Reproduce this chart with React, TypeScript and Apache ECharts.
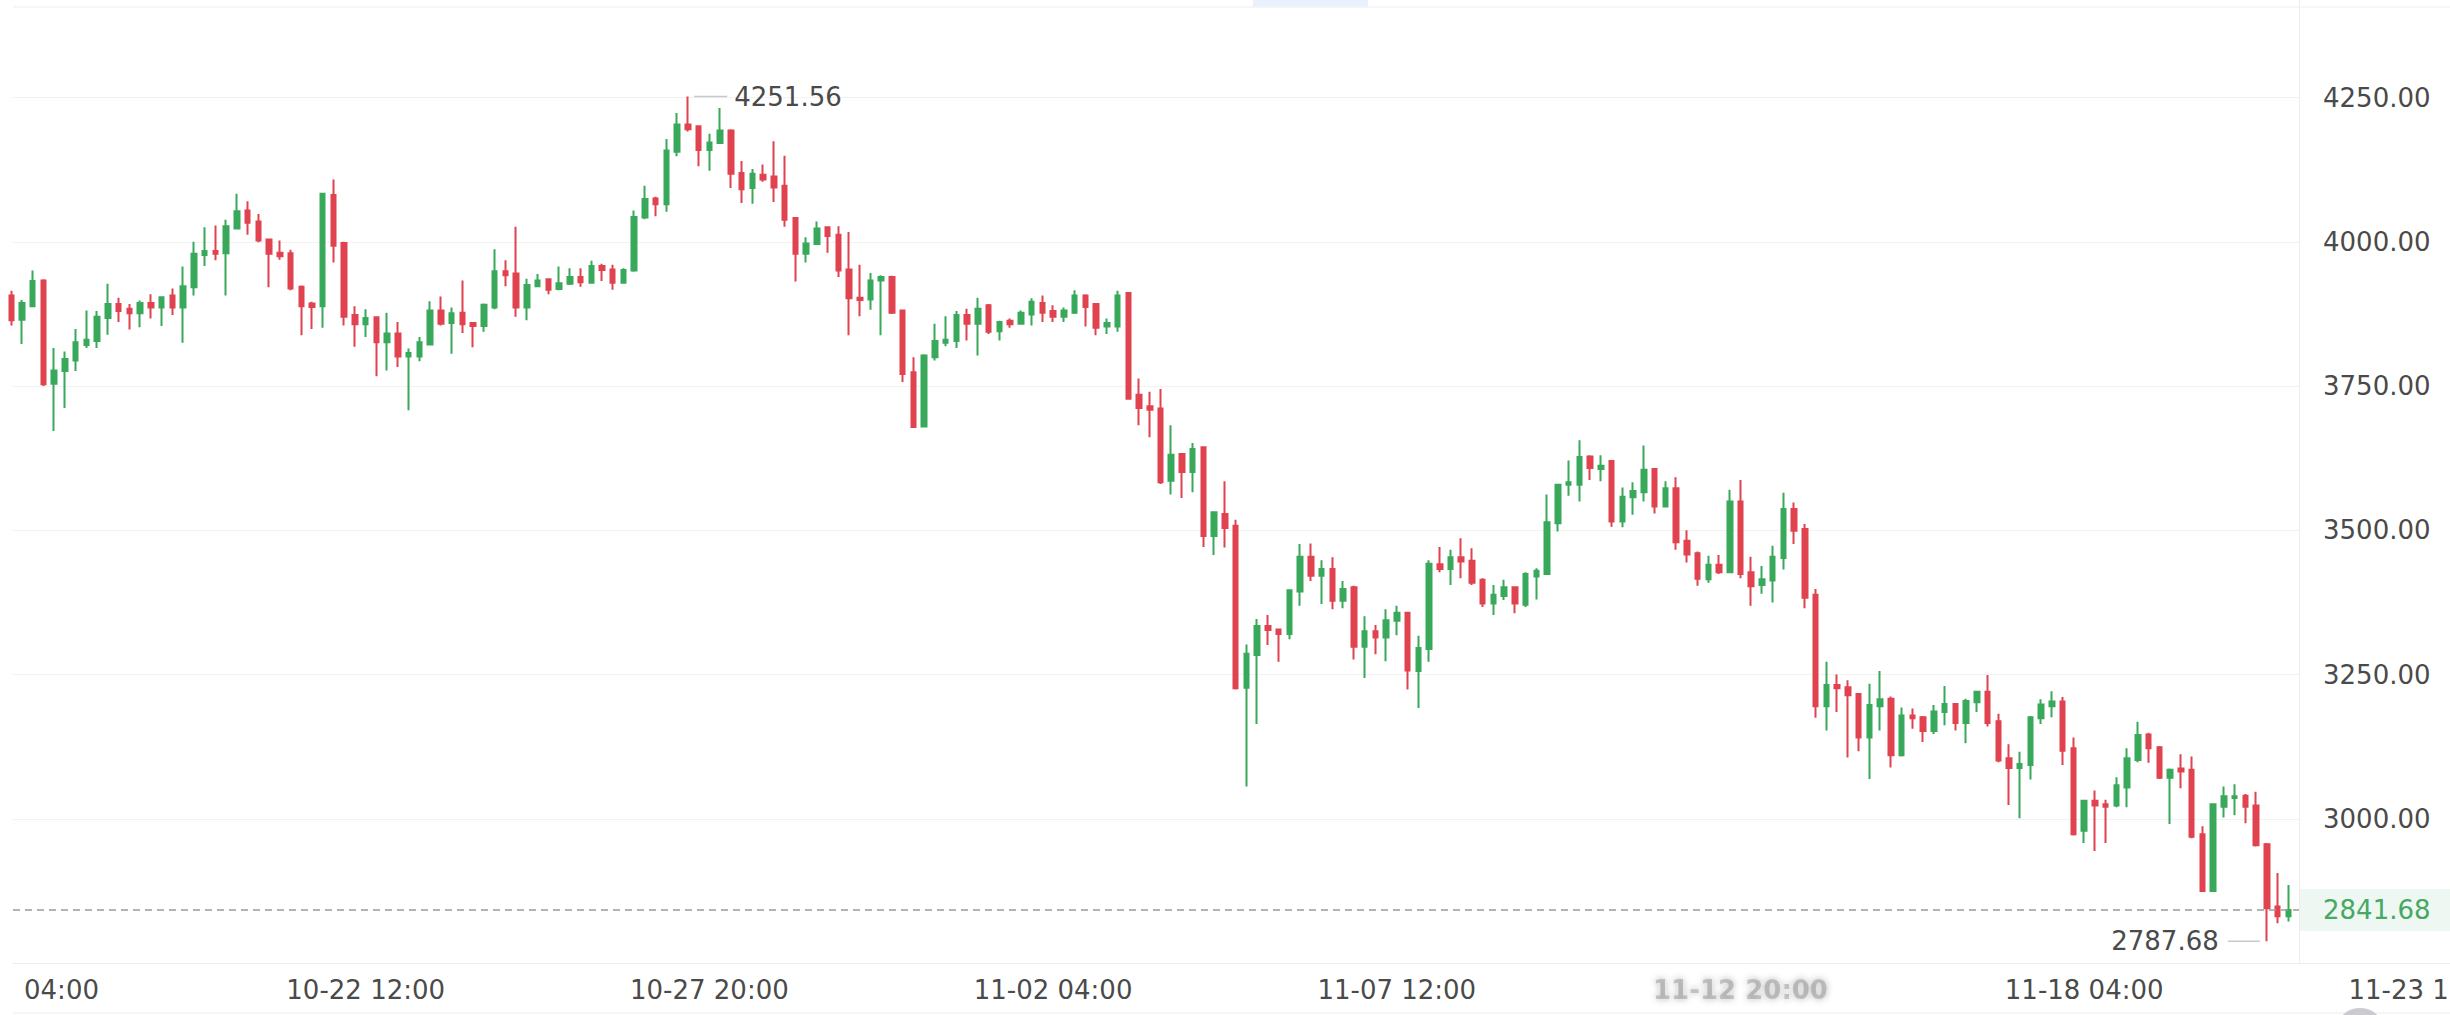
import React, { useEffect, useRef } from 'react';
import * as echarts from 'echarts';

// ---- Data (4h candles, index 0 = 10-17 00:00) ----
const openPrices = [
  3907, 3865, 3888, 3933, 3754, 3776, 3794, 3821, 3828, 3868,
  3892, 3884, 3876, 3894, 3886, 3907, 3886, 3921, 3977, 3984,
  3980, 4023, 4054, 4035, 4004, 3981, 3980, 3922, 3893, 3888,
  4081, 3998, 3873, 3857, 3869, 3826, 3841, 3801, 3801, 3822,
  3881, 3859, 3877, 3859, 3854, 3886, 3949, 3945, 3886, 3923,
  3935, 3918, 3927, 3939, 3929, 3958, 3952, 3929, 3950, 4042,
  4075, 4065, 4156, 4203, 4200, 4159, 4171, 4193, 4119, 4093,
  4116, 4113, 4097, 4041, 3979, 3996, 4025, 4012, 3952, 3903,
  3900, 3933, 3939, 3881, 3774, 3680, 3800, 3825, 3828, 3873,
  3858, 3890, 3845, 3863, 3858, 3874, 3894, 3880, 3870, 3877,
  3907, 3892, 3853, 3853, 3911, 3735, 3715, 3711, 3586, 3632,
  3601, 3644, 3490, 3528, 3508, 3227, 3284, 3334, 3328, 3320,
  3394, 3454, 3421, 3433, 3378, 3401, 3298, 3325, 3314, 3343,
  3357, 3256, 3294, 3441, 3433, 3453, 3447, 3414, 3373, 3386,
  3401, 3371, 3420, 3424, 3512, 3579, 3579, 3628, 3606, 3620,
  3515, 3557, 3566, 3606, 3541, 3573, 3482, 3460, 3415, 3440,
  3427, 3550, 3427, 3405, 3413, 3452, 3537, 3502, 3388, 3195,
  3232, 3228, 3216, 3141, 3195, 3208, 3110, 3179, 3176, 3152,
  3185, 3199, 3166, 3202, 3220, 3169, 3105, 3088, 3093, 3174,
  3195, 3203, 3122, 2979, 3031, 3025, 3023, 3054, 3102, 3146,
  3124, 3071, 3087, 3085, 2973, 2875, 3021, 3036, 3040, 3023,
  2956, 2848, 2831,
];

const closePrices = [
  3864, 3894, 3932, 3753, 3777, 3797, 3826, 3830, 3870, 3892,
  3880, 3876, 3894, 3886, 3904, 3886, 3923, 3979, 3984, 3979,
  4027, 4053, 4033, 4002, 3979, 3975, 3919, 3888, 3887, 4083,
  3993, 3870, 3857, 3868, 3826, 3841, 3801, 3807, 3826, 3881,
  3858, 3876, 3857, 3854, 3891, 3949, 3942, 3886, 3925, 3933,
  3917, 3928, 3939, 3930, 3958, 3951, 3929, 3951, 4043, 4074,
  4065, 4158, 4203, 4195, 4159, 4172, 4193, 4118, 4091, 4118,
  4108, 4094, 4038, 3979, 3997, 4023, 4010, 3950, 3902, 3899,
  3933, 3939, 3877, 3771, 3679, 3803, 3828, 3830, 3873, 3858,
  3884, 3844, 3861, 3857, 3877, 3896, 3877, 3870, 3881, 3907,
  3887, 3851, 3859, 3907, 3728, 3712, 3709, 3583, 3631, 3601,
  3641, 3490, 3531, 3504, 3226, 3286, 3334, 3327, 3320, 3396,
  3454, 3421, 3433, 3378, 3398, 3298, 3325, 3314, 3344, 3357,
  3257, 3296, 3442, 3433, 3453, 3446, 3409, 3373, 3388, 3401,
  3373, 3424, 3430, 3514, 3579, 3583, 3627, 3608, 3612, 3515,
  3558, 3568, 3605, 3541, 3573, 3479, 3458, 3416, 3440, 3427,
  3550, 3424, 3403, 3415, 3454, 3537, 3499, 3383, 3195, 3232,
  3226, 3214, 3141, 3197, 3207, 3110, 3179, 3174, 3152, 3186,
  3199, 3166, 3204, 3220, 3166, 3101, 3088, 3095, 3176, 3198,
  3203, 3118, 2973, 3031, 3023, 3021, 3058, 3105, 3145, 3122,
  3071, 3085, 3082, 2969, 2875, 3025, 3039, 3039, 3021, 2954,
  2845, 2831, 2841.68,
];

const lowPrices = [
  3855, 3823, 3887, 3750, 3672, 3712, 3776, 3816, 3816, 3839,
  3861, 3848, 3852, 3867, 3854, 3873, 3825, 3907, 3958, 3968,
  3907, 4022, 4012, 3999, 3921, 3969, 3916, 3838, 3849, 3851,
  3964, 3855, 3818, 3835, 3767, 3777, 3783, 3708, 3793, 3820,
  3855, 3806, 3842, 3817, 3844, 3883, 3923, 3870, 3864, 3922,
  3909, 3916, 3925, 3922, 3927, 3932, 3917, 3927, 3948, 4039,
  4044, 4052, 4148, 4191, 4131, 4123, 4170, 4093, 4067, 4066,
  4104, 4069, 4026, 3931, 3964, 3995, 3981, 3939, 3838, 3871,
  3882, 3838, 3875, 3757, 3677, 3678, 3794, 3819, 3816, 3829,
  3803, 3840, 3829, 3851, 3857, 3855, 3861, 3861, 3861, 3875,
  3853, 3838, 3840, 3844, 3726, 3682, 3661, 3580, 3562, 3556,
  3566, 3471, 3457, 3470, 3224, 3056, 3164, 3301, 3272, 3311,
  3369, 3412, 3372, 3363, 3365, 3276, 3244, 3285, 3273, 3318,
  3224, 3192, 3272, 3427, 3405, 3417, 3405, 3367, 3353, 3379,
  3356, 3367, 3380, 3423, 3498, 3560, 3550, 3587, 3585, 3506,
  3505, 3527, 3550, 3529, 3540, 3466, 3444, 3404, 3409, 3424,
  3426, 3417, 3369, 3390, 3375, 3432, 3476, 3365, 3175, 3153,
  3185, 3106, 3117, 3069, 3153, 3089, 3108, 3156, 3133, 3147,
  3162, 3153, 3131, 3185, 3160, 3098, 3024, 3001, 3068, 3164,
  3176, 3093, 2971, 2958, 2944, 2958, 3020, 3020, 3098, 3097,
  3069, 2991, 3053, 2966, 2874, 2874, 3002, 3006, 2992, 2952,
  2787.68, 2819, 2822,
];

const highPrices = [
  3915, 3899, 3950, 3935, 3816, 3810, 3849, 3881, 3880, 3927,
  3903, 3892, 3898, 3909, 3905, 3919, 3957, 4000, 4025, 4028,
  4038, 4083, 4070, 4048, 4005, 4002, 3986, 3924, 3896, 4085,
  4108, 4000, 3888, 3883, 3870, 3877, 3861, 3815, 3835, 3897,
  3905, 3886, 3933, 3860, 3893, 3987, 3968, 4026, 3936, 3944,
  3936, 3957, 3954, 3954, 3967, 3962, 3960, 3954, 4054, 4097,
  4078, 4178, 4223, 4251.56, 4202, 4187, 4232, 4195, 4140, 4126,
  4134, 4174, 4149, 4042, 4008, 4035, 4026, 4027, 4017, 3960,
  3946, 3942, 3941, 3882, 3800, 3805, 3858, 3871, 3880, 3884,
  3903, 3892, 3863, 3867, 3881, 3902, 3907, 3890, 3886, 3916,
  3909, 3893, 3867, 3915, 3913, 3763, 3740, 3745, 3682, 3634,
  3651, 3645, 3533, 3585, 3518, 3302, 3346, 3353, 3329, 3397,
  3476, 3477, 3448, 3453, 3412, 3404, 3351, 3336, 3363, 3369,
  3358, 3317, 3448, 3471, 3466, 3486, 3469, 3417, 3405, 3414,
  3402, 3427, 3434, 3562, 3580, 3621, 3656, 3630, 3630, 3621,
  3574, 3583, 3647, 3608, 3585, 3592, 3500, 3463, 3456, 3457,
  3570, 3587, 3454, 3438, 3473, 3565, 3548, 3511, 3398, 3272,
  3250, 3240, 3218, 3234, 3256, 3212, 3193, 3191, 3178, 3197,
  3230, 3200, 3208, 3221, 3249, 3182, 3129, 3116, 3178, 3207,
  3221, 3211, 3141, 3032, 3049, 3033, 3072, 3122, 3168, 3149,
  3126, 3087, 3112, 3108, 2987, 3027, 3056, 3060, 3043, 3047,
  2958, 2906, 2885,
];

const tickIndex = [1, 33, 65, 97, 129, 161, 193, 225];
const tickLabels = [
  '10-17 04:00', '10-22 12:00', '10-27 20:00', '11-02 04:00',
  '11-07 12:00', '11-12 20:00', '11-18 04:00', '11-23 12:00',
];
const lastPrice = 2841.68;

const UP = '#38A85A';
const DOWN = '#E0434F';
const FONT = 'DejaVu Sans';
const TEXT = '#4a4a4a';
const LINE = '#EDEDED';

export default function App() {
  const ref = useRef<HTMLDivElement>(null);

  useEffect(() => {
    if (!ref.current) return;
    const chart = echarts.init(ref.current, undefined, { renderer: 'svg' });

    const candles = openPrices.map((o, i) => [i, o, closePrices[i], lowPrices[i], highPrices[i]]);

    const option: any = {
      animation: false,
      backgroundColor: '#ffffff',
      grid: [
        { left: 13, top: -46.75, width: 2286, height: 1009.75, containLabel: false, outerBoundsMode: 'none' },
        { left: 13, top: 900, width: 2437, height: 63, containLabel: false, outerBoundsMode: 'none' },
      ],
      xAxis: [
        { type: 'value', gridIndex: 0, min: 0.162, max: 213, show: false },
        {
          type: 'value',
          gridIndex: 1,
          min: 0.162,
          max: 227.06,
          axisLine: { show: true, lineStyle: { color: LINE, width: 1 } },
          axisTick: { show: false },
          splitLine: { show: false },
          axisLabel: {
            customValues: tickIndex,
            margin: 14,
            fontSize: 26,
            fontFamily: FONT,
            color: TEXT,
            formatter: (v: number) => {
              const k = tickIndex.indexOf(Math.round(v));
              if (k < 0) return '';
              const t = tickLabels[k];
              if (k === 0) return '{cut|' + t.slice(6) + '}';
              if (k === 5) return '{blur|' + t + '}';
              return t;
            },
            rich: {
              cut: { fontSize: 26, fontFamily: FONT, color: TEXT, padding: [0, 0, 0, 79] },
              blur: {
                fontSize: 26,
                fontFamily: FONT,
                fontWeight: 'bold',
                color: 'rgba(90,90,90,0.30)',
                textShadowColor: 'rgba(40,40,40,1)',
                textShadowBlur: 7,
              },
            },
          },
        },
      ],
      yAxis: [
        {
          type: 'value',
          gridIndex: 0,
          position: 'right',
          min: 2750,
          max: 4500,
          interval: 250,
          axisLine: { show: true, lineStyle: { color: LINE, width: 1 } },
          axisTick: { show: false },
          splitLine: { show: true, lineStyle: { color: '#F2F2F2', width: 1 } },
          axisLabel: {
            margin: 24,
            fontSize: 26,
            fontFamily: FONT,
            color: TEXT,
            formatter: (v: number) => (v >= 3000 && v <= 4250 ? v.toFixed(2) : ''),
          },
        },
        { type: 'value', gridIndex: 1, show: false, min: 0, max: 1 },
      ],
      series: [
        {
          type: 'candlestick',
          xAxisIndex: 0,
          yAxisIndex: 0,
          data: candles,
          barWidth: 5,
          clip: true,
          itemStyle: {
            color: UP,
            color0: DOWN,
            borderColor: UP,
            borderColor0: DOWN,
            borderWidth: 2,
          },
          markLine: {
            silent: true,
            symbol: ['none', 'none'],
            data: [{ yAxis: lastPrice }],
            lineStyle: { color: '#9a9a9a', width: 1.5, type: [7, 5] },
            label: {
              show: true,
              position: 'end',
              distance: 1,
              formatter: (p: any) => Number(p.value).toFixed(2),
              color: '#46A862',
              fontSize: 26,
              fontFamily: FONT,
              backgroundColor: '#EEF7F1',
              padding: [8, 40, 8, 23],
            },
          },
          markPoint: {
            silent: true,
            data: [
              {
                type: 'max',
                valueDim: 'highest',
                symbol: 'rect',
                symbolSize: [33, 1.5],
                symbolOffset: [22.8, 0],
                itemStyle: { color: '#C8C8C8' },
                label: {
                  show: true,
                  position: 'right',
                  distance: 7,
                  color: TEXT,
                  fontSize: 26,
                  fontFamily: FONT,
                  formatter: (p: any) => Number(p.value).toFixed(2),
                },
              },
              {
                type: 'min',
                valueDim: 'lowest',
                symbol: 'rect',
                symbolSize: [32, 1.5],
                symbolOffset: [-23, 0],
                itemStyle: { color: '#C8C8C8' },
                label: {
                  show: true,
                  position: 'left',
                  distance: 9,
                  color: TEXT,
                  fontSize: 26,
                  fontFamily: FONT,
                  formatter: (p: any) => Number(p.value).toFixed(2),
                },
              },
            ],
          },
        },
      ],
      graphic: [
        { type: 'line', shape: { x1: 13, y1: 7, x2: 2450, y2: 7 }, style: { stroke: LINE, lineWidth: 1 }, silent: true },
        { type: 'rect', shape: { x: 1253, y: 0, width: 115, height: 6.5 }, style: { fill: '#E8F1FD' }, silent: true },
        { type: 'line', shape: { x1: 13, y1: 1013, x2: 2450, y2: 1013 }, style: { stroke: LINE, lineWidth: 1 }, silent: true },
        { type: 'circle', shape: { cx: 2360, cy: 1033, r: 25 }, style: { fill: '#CBCBCF' }, silent: true },
      ],
    };

    chart.setOption(option);
    return () => chart.dispose();
  }, []);

  return (
    <div
      ref={ref}
      style={{ position: 'fixed', left: 0, top: 0, width: 2450, height: 1015, background: '#ffffff' }}
    />
  );
}
